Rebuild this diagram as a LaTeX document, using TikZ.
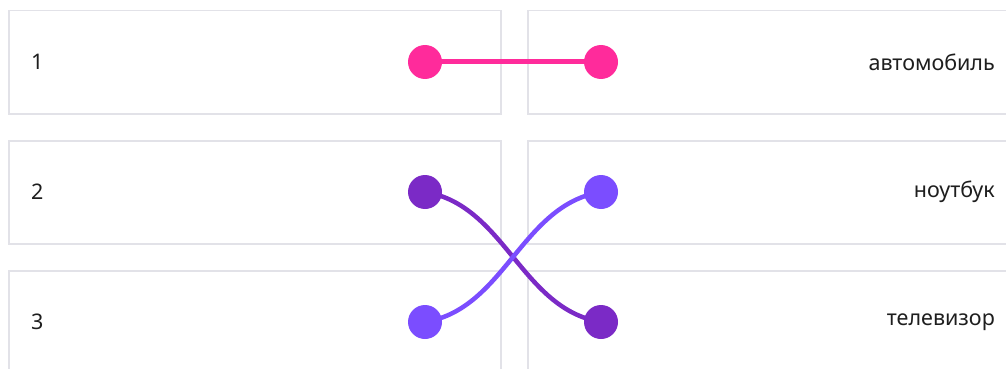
\documentclass[tikz,border=0pt]{standalone}
\usepackage{fontspec}
\setmainfont{Noto Sans}
\definecolor{boxline}{RGB}{226,226,232}
\definecolor{txt}{RGB}{30,30,30}
\definecolor{pinkc}{RGB}{255,43,155}
\definecolor{darkp}{RGB}{123,42,198}
\definecolor{lightp}{RGB}{123,77,255}
\begin{document}
\begin{tikzpicture}[x=1pt,y=-1pt,
  cell/.style={draw=boxline,line width=1.5pt,rectangle,inner sep=0pt,anchor=north west},
  lbl/.style={text=txt,font=\fontsize{21.5}{24}\selectfont,inner sep=0pt},
  dot/.style={circle,fill=#1,minimum size=34pt,inner sep=0pt},
  straightlink/.style={draw=#1,line width=5pt},
  curvelink/.style={draw=#1,line width=4.5pt}]
\useasboundingbox (0,0) rectangle (1006,369);
\clip (0,0) rectangle (1006,369);
% boxes
\node[cell,minimum width=492pt,minimum height=103pt] (bl1) at (8,10) {};
\node[cell,minimum width=492pt,minimum height=103pt] (bl2) at (8,140) {};
\node[cell,minimum width=492pt,minimum height=120pt] (bl3) at (8,270) {};
\node[cell,minimum width=500pt,minimum height=103pt] (br1) at (527,10) {};
\node[cell,minimum width=500pt,minimum height=103pt] (br2) at (527,140) {};
\node[cell,minimum width=500pt,minimum height=120pt] (br3) at (527,270) {};
% labels
\node[lbl,anchor=west] (t1) at (31,62) {1};
\node[lbl,anchor=west] (t2) at (31,192) {2};
\node[lbl,anchor=west] (t3) at (31,322) {3};
\node[lbl,anchor=east] (a1) at (995,62) {автомобиль};
\node[lbl,anchor=east] (a2) at (995,192) {ноутбук};
\node[lbl,anchor=east] (a3) at (995,322) {телевизор};
% dot centres
\coordinate (l1) at (425,62);
\coordinate (l2) at (425,192);
\coordinate (l3) at (425,322);
\coordinate (r1) at (601,62);
\coordinate (r2) at (601,192);
\coordinate (r3) at (601,322);
% connectors
\draw[straightlink=pinkc] (l1) -- (r1);
\draw[curvelink=darkp] (l2) .. controls (505,205) and (521,309) .. (r3);
\draw[curvelink=lightp] (l3) .. controls (505,309) and (521,205) .. (r2);
% dots
\node[dot=pinkc] (dl1) at (l1) {};
\node[dot=pinkc] (dr1) at (r1) {};
\node[dot=darkp] (dl2) at (l2) {};
\node[dot=lightp] (dr2) at (r2) {};
\node[dot=lightp] (dl3) at (l3) {};
\node[dot=darkp] (dr3) at (r3) {};
\end{tikzpicture}
\end{document}
